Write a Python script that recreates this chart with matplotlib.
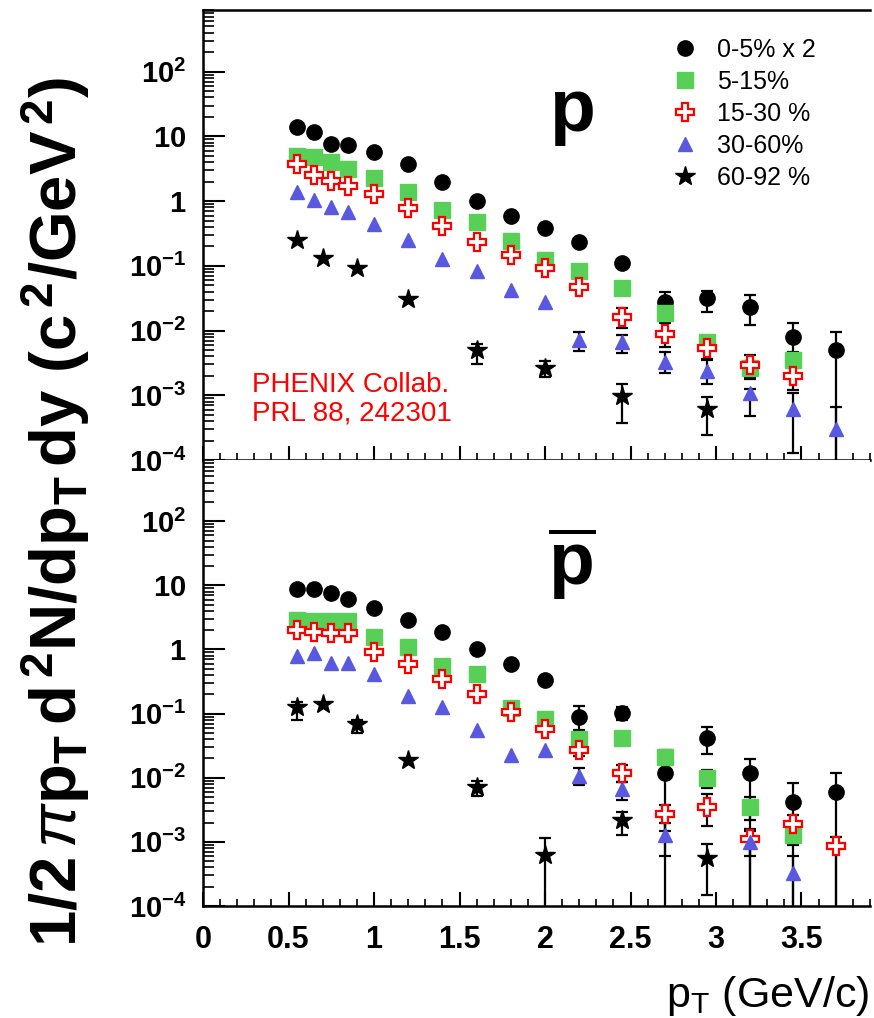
import numpy as np
import matplotlib
matplotlib.use("Agg")
import matplotlib.pyplot as plt
from matplotlib.ticker import FixedLocator, FuncFormatter, MultipleLocator, NullFormatter

plt.rcParams["font.family"] = ["Liberation Sans", "DejaVu Sans"]
plt.rcParams["mathtext.fontset"] = "custom"
plt.rcParams["mathtext.rm"] = "Liberation Sans"
plt.rcParams["mathtext.it"] = "Liberation Sans:italic"
plt.rcParams["mathtext.bf"] = "Liberation Sans:bold"

nan = np.nan

# --- pT bins ---
PT = [0.55, 0.65, 0.75, 0.85, 1.0, 1.2, 1.4, 1.6, 1.8, 2.0, 2.2, 2.45, 2.7, 2.95, 3.2, 3.45, 3.7]
PT_PERI = [0.55, 0.7, 0.9, 1.2, 1.6, 2.0, 2.45, 2.95]

# --- protons (top panel) ---
p_c0_5 = [14, 11.7, 7.6, 7.4, 5.7, 3.7, 2.0, 1.02, 0.6, 0.38, 0.235, 0.11, 0.028, 0.032, 0.023, 0.0079, 0.005]
p_c5_15 = [5.0, 4.8, 4.0, 3.1, 2.25, 1.37, 0.73, 0.47, 0.24, 0.124, 0.082, 0.046, 0.0187, 0.0066, 0.0026, 0.0035, nan]
p_c15_30 = [3.8, 2.55, 2.05, 1.72, 1.27, 0.78, 0.41, 0.23, 0.145, 0.093, 0.048, 0.0163, 0.009, 0.0054, 0.0029, 0.0020, nan]
p_c30_60 = [1.37, 1.03, 0.8, 0.69, 0.45, 0.25, 0.129, 0.083, 0.042, 0.028, 0.0071, 0.0066, 0.0033, 0.0024, 0.00107, 0.00062, 0.0003]
p_c60_92 = [0.25, 0.132, 0.093, 0.031, 0.005, 0.0026, 0.00099, 0.00062]

# error bars (x, low, high); low 1e-6 = runs off the bottom
p_err_c0_5 = ([2.45, 2.7, 2.95, 3.2, 3.45, 3.7],
              [0.095, 0.016, 0.0194, 0.012, 0.0046, 1e-6],
              [0.13, 0.04, 0.041, 0.035, 0.013, 0.0095])
p_err_c5_15 = ([2.45, 2.7, 2.95, 3.2, 3.45],
               [0.04, 0.014, 0.0052, 0.0019, 0.0026],
               [0.052, 0.024, 0.0082, 0.0034, 0.0045])
p_err_c15_30 = ([2.45, 2.7, 2.95, 3.2, 3.45],
                [0.011, 0.0055, 0.0035, 0.0018, 0.0012],
                [0.022, 0.013, 0.008, 0.0042, 0.0035])
p_err_c30_60 = ([2.2, 2.45, 2.7, 2.95, 3.2, 3.45, 3.7],
                [0.0049, 0.0045, 0.0022, 0.00147, 0.00048, 0.00013, 1e-6],
                [0.0095, 0.0085, 0.0046, 0.0037, 0.00127, 0.0011, 0.00065])
p_err_c60_92 = ([1.6, 2.0, 2.45, 2.95],
                [0.0031, 0.0019, 0.00038, 0.000245],
                [0.0062, 0.0034, 0.00147, 0.00093])

# --- antiprotons (bottom panel) ---
pb_c0_5 = [8.7, 8.7, 7.6, 6.1, 4.5, 2.88, 1.85, 1.02, 0.6, 0.34, 0.089, 0.102, 0.012, 0.042, 0.012, 0.0042, 0.0061]
pb_c5_15 = [2.9, 2.8, 2.75, 2.75, 1.58, 1.11, 0.56, 0.42, 0.124, 0.083, 0.04, 0.041, 0.021, 0.0098, 0.0035, 0.0013, nan]
pb_c15_30 = [2.0, 1.9, 1.8, 1.8, 0.91, 0.6, 0.35, 0.2, 0.105, 0.058, 0.0275, 0.012, 0.0027, 0.0035, 0.0011, 0.0019, 0.00087]
pb_c30_60 = [0.8, 0.87, 0.61, 0.61, 0.42, 0.19, 0.126, 0.055, 0.0225, 0.027, 0.0106, 0.0066, 0.0013, nan, 0.00098, 0.00033, nan]
pb_c60_92 = [0.126, 0.14, 0.07, 0.0187, 0.0072, 0.00063, 0.0022, 0.00056]

pb_err_c0_5 = ([2.2, 2.45, 2.7, 2.95, 3.2, 3.45, 3.7],
               [0.055, 0.08, 1e-6, 0.0233, 1e-6, 1e-6, 1e-6],
               [0.13, 0.125, 0.027, 0.062, 0.0199, 0.0082, 0.0118])
pb_err_c5_15 = ([2.2, 2.45, 2.7, 2.95, 3.2, 3.45],
                [0.03, 0.032, 0.017, 0.007, 0.0022, 0.0009],
                [0.05, 0.05, 0.025, 0.013, 0.005, 0.0018])
pb_err_c15_30 = ([2.2, 2.45, 2.7, 2.95, 3.2, 3.45, 3.7],
                 [0.022, 0.0085, 0.0015, 0.0018, 0.0006, 0.0012, 1e-6],
                 [0.034, 0.016, 0.0037, 0.0055, 0.0016, 0.0026, 0.0012])
pb_err_c30_60 = ([2.2, 2.45, 2.7, 3.2, 3.45],
                 [0.0077, 0.0045, 0.0006, 1e-6, 1e-6],
                 [0.014, 0.0087, 0.002, 0.0015, 0.0006])
pb_err_c60_92 = ([0.55, 0.9, 1.6, 2.0, 2.45, 2.95],
                 [0.08, 0.05, 0.0052, 1e-6, 0.0013, 0.00015],
                 [0.15, 0.08, 0.009, 0.00114, 0.0029, 0.00093])

LABELS = ["0-5% x 2", "5-15%", "15-30 %", "30-60%", "60-92 %"]
YTICKS = [1e-4, 1e-3, 1e-2, 1e-1, 1, 10, 100]
YTICK_LABELS = [r"$\mathbf{10^{-4}}$", r"$\mathbf{10^{-3}}$", r"$\mathbf{10^{-2}}$",
                r"$\mathbf{10^{-1}}$", r"$\mathbf{1}$", r"$\mathbf{10}$", r"$\mathbf{10^{2}}$"]

GREEN = "#58d058"
BLUE = "#5858e0"

STYLES = [
    dict(marker="o", ms=11, mfc="black", mec="black"),
    dict(marker="s", ms=12, mfc=GREEN, mec=GREEN),
    dict(marker="P", ms=13, mfc="white", mec="red", mew=1.6),
    dict(marker="^", ms=10, mfc=BLUE, mec=BLUE),
    dict(marker="*", ms=15, mfc="black", mec="black"),
]


def draw_panel(ax, series, errors):
    handles = []
    xs = [PT, PT, PT, PT, PT_PERI]
    for x, y, (ex, elo, ehi), st in zip(xs, series, errors, STYLES):
        ex = np.array(ex); elo = np.array(elo); ehi = np.array(ehi)
        ey = np.interp(ex, x, np.nan_to_num(np.array(y), nan=1e-6))
        ax.errorbar(ex, ey, yerr=[ey - elo, ehi - ey], fmt="none", ecolor="black",
                    elinewidth=1.6, capsize=4, capthick=1.6, zorder=2)
        h, = ax.plot(x, y, ls="none", zorder=3, **st)
        handles.append(h)
    ax.set_yscale("log")
    ax.set_xlim(0, 3.9)
    ax.set_ylim(1e-4, 900)
    ax.yaxis.set_major_locator(FixedLocator(YTICKS))
    ax.yaxis.set_major_formatter(FuncFormatter(lambda v, i: YTICK_LABELS[YTICKS.index(v)] if v in YTICKS else ""))
    ax.yaxis.set_minor_locator(matplotlib.ticker.LogLocator(base=10, subs=np.arange(2, 10)))
    ax.yaxis.set_minor_formatter(NullFormatter())
    ax.xaxis.set_major_locator(MultipleLocator(0.5))
    ax.xaxis.set_minor_locator(MultipleLocator(0.1))
    ax.tick_params(axis="y", which="major", direction="in", length=16, width=1.5, labelsize=21, pad=12)
    ax.tick_params(axis="y", which="minor", direction="in", length=8, width=1.2)
    ax.tick_params(axis="x", which="major", direction="in", length=10, width=1.5, labelsize=22, pad=14)
    ax.tick_params(axis="x", which="minor", direction="in", length=5, width=1.2)
    ax.spines["right"].set_visible(False)
    for s in ax.spines.values():
        s.set_linewidth(1.8)
    return handles


fig = plt.figure(figsize=(8.74, 10.18), dpi=100)
ax1 = fig.add_axes([0.2323, 0.5481, 0.763, 0.4421])
ax2 = fig.add_axes([0.2323, 0.1100, 0.763, 0.4381])

h = draw_panel(ax1, [p_c0_5, p_c5_15, p_c15_30, p_c30_60, p_c60_92],
               [p_err_c0_5, p_err_c5_15, p_err_c15_30, p_err_c30_60, p_err_c60_92])
draw_panel(ax2, [pb_c0_5, pb_c5_15, pb_c15_30, pb_c30_60, pb_c60_92],
           [pb_err_c0_5, pb_err_c5_15, pb_err_c15_30, pb_err_c30_60, pb_err_c60_92])

ax1.tick_params(axis="x", labelbottom=False)
ax2.spines["top"].set_visible(False)
ax1.xaxis.set_major_formatter(NullFormatter())
ax2.xaxis.set_major_formatter(FuncFormatter(lambda v, i: f"{v:g}"))
for t in ax2.get_xticklabels():
    t.set_fontweight("bold")

ax1.legend(h, LABELS, loc="upper left", bbox_to_anchor=(0.769, 0.963), bbox_transform=fig.transFigure,
           frameon=False, fontsize=18, handlelength=1.0, handletextpad=0.8, labelspacing=0.32,
           borderpad=0, borderaxespad=0)

ax1.text(0.553, 0.77, r"$\mathbf{p}$", transform=ax1.transAxes, fontsize=54, ha="center", va="center")
ax2.text(0.553, 0.77, r"$\overline{\mathbf{p}}$", transform=ax2.transAxes, fontsize=54, ha="center", va="center")
ax1.text(0.073, 0.135, "PHENIX Collab.\nPRL 88, 242301", transform=ax1.transAxes, color="red",
         fontsize=20, ha="left", va="center", linespacing=1.15)

fig.text(0.064, 0.497, r"$\mathbf{1/2}\,\pi\mathbf{p_T\, d^{\,2}N/dp_T\, dy\ (c^{\,2}/GeV^{\,2})}$",
         rotation=90, ha="center", va="center", fontsize=47)
fig.text(0.995, 0.022, r"$\mathrm{p_T}$ (GeV/c)", ha="right", va="center", fontsize=31)

fig.savefig("out.png", dpi=100)
